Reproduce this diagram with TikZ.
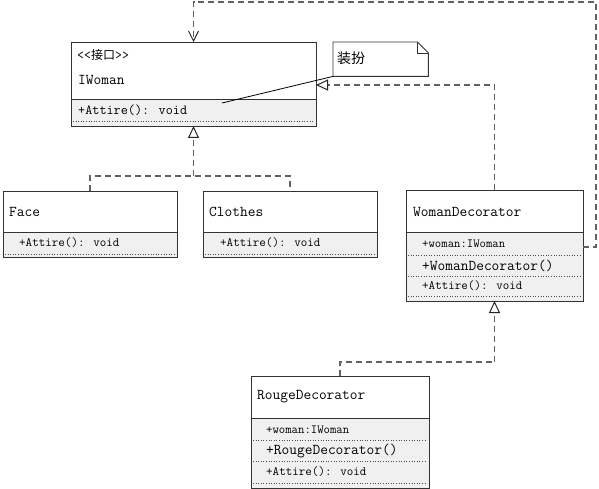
\documentclass[tikz,border=0pt]{standalone}
\usepackage{fontspec}
\newfontfamily\cjk{Noto Sans CJK SC}
\usetikzlibrary{arrows.meta,calc,shadows}
\begin{document}
\begin{tikzpicture}[x=1pt,y=-1pt,
  boxshadow/.style={drop shadow={shadow xshift=1.2pt,shadow yshift=-1.2pt,fill=black!45,opacity=1}},
  head/.style={draw=black!80,line width=0.9pt,fill=white,anchor=north west,inner sep=0pt,outer sep=0pt,boxshadow},
  body/.style={draw=black!80,line width=0.9pt,fill=black!6,anchor=north west,inner sep=0pt,outer sep=0pt,boxshadow},
  lbl/.style={anchor=west,inner sep=0pt,font=\ttfamily\fontsize{15}{15}\selectfont},
  mem/.style={anchor=west,inner sep=0pt,font=\ttfamily\fontsize{12.7}{13}\selectfont},
  attr/.style={anchor=west,inner sep=0pt,font=\ttfamily\fontsize{12.4}{13}\selectfont},
  sep/.style={black!70,line width=0.6pt,dotted},
  rel/.style={black!62,line width=1.2pt,dash pattern=on 6pt off 4pt},
  gen/.style={rel,-{Triangle[open,length=12pt,width=11pt,fill=white,line width=1pt,black!85]}},
  dep/.style={rel,-{Straight Barb[length=10pt,width=10pt,line width=1pt,black!85]}},
  notebox/.style={inner sep=0pt,minimum width=95pt,minimum height=34pt,anchor=north west}
]
\useasboundingbox (0,0) rectangle (599,489);

% IWoman
\node[head,minimum width=245pt,minimum height=57pt] (iw) at (71,42) {};
\node[body,minimum width=245pt,minimum height=27pt] (iwb) at (71,99) {};
\node[lbl,font=\ttfamily\fontsize{13.5}{13.5}\selectfont] (iwst) at (77,55) {<<{\cjk\fontsize{12}{12}\selectfont 接口}>>};
\node[lbl] (iwn) at (78,80) {IWoman};
\node[mem,font=\ttfamily\fontsize{13.8}{14}\selectfont] (iwm) at (78,110) {+Attire(): void};
\draw[sep] (73,121) -- (314,121);

% Face
\node[head,minimum width=174pt,minimum height=41pt] (fa) at (3,191) {};
\node[body,minimum width=174pt,minimum height=25pt] (fab) at (3,232) {};
\node[lbl] (fan) at (9,212) {Face};
\node[mem] (fam) at (19,243) {+Attire(): void};
\draw[sep] (5,254) -- (175,254);

% Clothes
\node[head,minimum width=174pt,minimum height=41pt] (cl) at (203,191) {};
\node[body,minimum width=174pt,minimum height=25pt] (clb) at (203,232) {};
\node[lbl] (cln) at (209,212) {Clothes};
\node[mem] (clm) at (220,243) {+Attire(): void};
\draw[sep] (205,254) -- (375,254);

% WomanDecorator
\node[head,minimum width=177pt,minimum height=42pt] (wd) at (406,190) {};
\node[body,minimum width=177pt,minimum height=69pt] (wdb) at (406,232) {};
\node[lbl] (wdn) at (413,212) {WomanDecorator};
\node[attr] (wda) at (422,244) {+woman:IWoman};
\draw[sep] (408,255) -- (581,255);
\node[lbl] (wdc) at (422,266) {+WomanDecorator()};
\draw[sep] (408,276) -- (581,276);
\node[mem] (wdm) at (422,286) {+Attire(): void};
\draw[sep] (408,296) -- (581,296);

% RougeDecorator
\node[head,minimum width=178pt,minimum height=42pt] (rg) at (251,376) {};
\node[body,minimum width=178pt,minimum height=70pt] (rgb) at (251,418) {};
\node[lbl] (rgn) at (257,397) {RougeDecorator};
\node[attr] (rga) at (266,430) {+woman:IWoman};
\draw[sep] (253,440) -- (427,440);
\node[lbl] (rgc) at (266,451) {+RougeDecorator()};
\draw[sep] (253,461) -- (427,461);
\node[mem] (rgm) at (266,472) {+Attire(): void};
\draw[sep] (253,483) -- (427,483);

% Note
\node[notebox] (nt) at (333,42) {};
\draw[black!80,line width=0.9pt,fill=white]
  (nt.south west) -- (nt.north west) -- ($(nt.north east)+(-11,0)$)
  -- ($(nt.north east)+(0,11)$) -- (nt.south east) -- cycle;
\draw[black!80,line width=0.8pt]
  ($(nt.north east)+(-11,0)$) -- ($(nt.north east)+(-11,11)$) -- ($(nt.north east)+(0,11)$);
\node[anchor=west,inner sep=0pt,font=\cjk\fontsize{14}{14}\selectfont] (ntt) at (337,58) {装扮};
\coordinate (ntend) at (222,103);
\draw[black,line width=0.8pt] (nt.south west) -- (ntend);

% Relations
\coordinate (j1) at ($(iwb.south)+(0,50)$);
\draw[rel] (fa.north) |- (j1) -| (cl.north);
\draw[gen] (j1) -- (iwb.south);

\draw[gen] (wd.north) |- ([yshift=-14.5pt]iw.east);

\coordinate (j2) at ($(wdb.south)+(0,61)$);
\draw[rel] (rg.north) |- (j2);
\draw[gen] (j2) -- (wdb.south);

\draw[dep] ([yshift=19.5pt]wdb.east) -- ++(13,0) |- ($(iw.north)+(0,-40)$) -- (iw.north);
\end{tikzpicture}
\end{document}
